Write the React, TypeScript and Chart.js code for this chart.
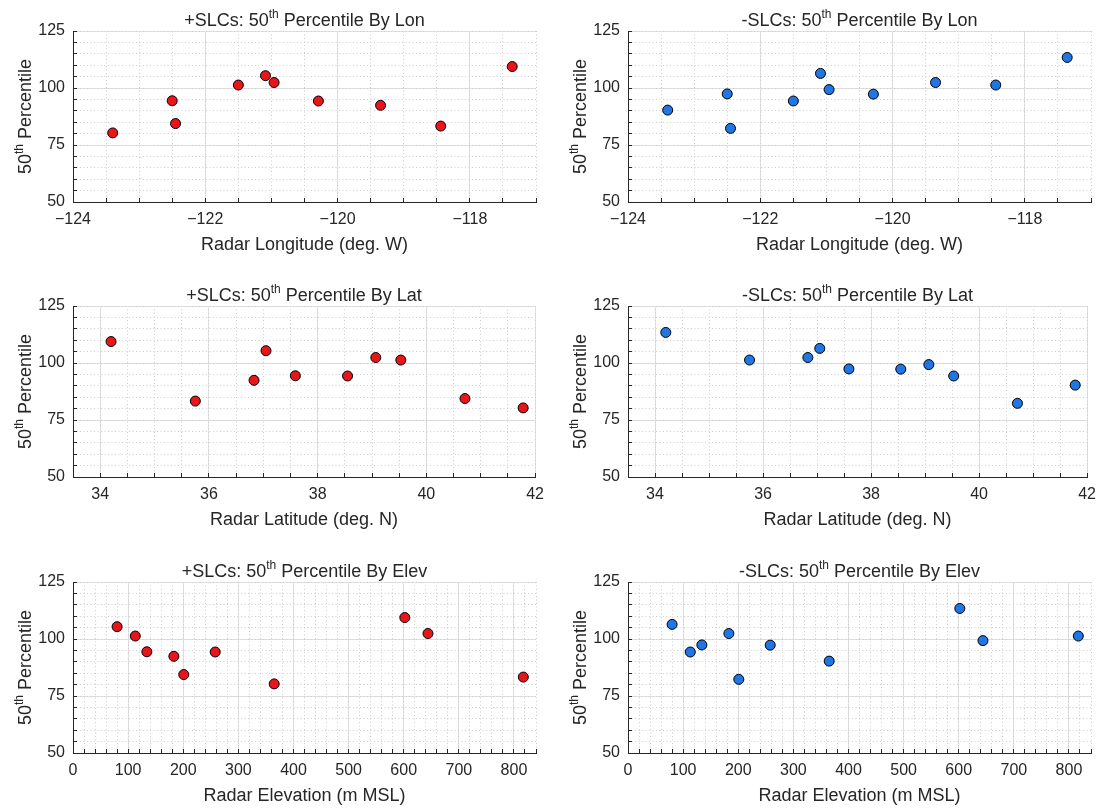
import React, { useEffect, useRef } from 'react';
import { Chart, registerables } from 'chart.js';

Chart.register(...registerables);

// ---- Data ----
const radarLon = [-123.40, -122.50, -122.45, -121.50, -121.09, -120.96, -120.29, -119.35, -118.44, -117.36];
const radarLat = [41.78, 37.59, 40.71, 39.53, 37.05, 39.07, 38.55, 36.83, 35.75, 34.20];
const radarElev = [365, 134, 201, 113, 80, 644, 258, 183, 817, 602];
const p50Plus = [80.3, 94.4, 84.4, 101.3, 105.4, 102.4, 94.3, 92.4, 83.3, 109.4];
const p50Minus = [90.3, 97.4, 82.3, 94.3, 106.4, 99.3, 97.3, 102.4, 101.3, 113.4];

// ---- Axes / tick labels ----
const lonTicks = [-124, -122, -120, -118];
const lonRange = [-124, -117];
const lonMinorStep = 0.5;
const latTicks = [34, 36, 38, 40, 42];
const latRange = [33.5, 42];
const latMinorStep = 0.5;
const elevTicks = [0, 100, 200, 300, 400, 500, 600, 700, 800];
const elevRange = [0, 840];
const elevMinorStep = 20;
const pctTicks = [50, 75, 100, 125];
const pctRange = [50, 125];
const pctMinorStep = 5;

// ---- Text ----
const plusPrefix = '+SLCs: 50';
const minusPrefix = '-SLCs: 50';
const supText = 'th';
const titleSuffixLon = ' Percentile By Lon';
const titleSuffixLat = ' Percentile By Lat';
const titleSuffixElev = ' Percentile By Elev';
const yLabelParts = [{ text: '50' }, { text: 'th', sup: true }, { text: ' Percentile' }];
const xLabelLon = 'Radar Longitude (deg. W)';
const xLabelLat = 'Radar Latitude (deg. N)';
const xLabelElev = 'Radar Elevation (m MSL)';

// ---- Styles ----
const FONT = "'Liberation Sans', Arial, Helvetica, sans-serif";
const TEXT = '#262626';
const AXIS = '#262626';
const MAJOR_GRID = '#e1e1e1';
const MINOR_GRID = '#cdcdcd';
const RED = '#e8151b';
const BLUE = '#1f76e4';
const TITLE_SIZE = 18;
const SUP_SIZE = 12;
const LABEL_SIZE = 18;
const TICK_SIZE = 16;

type Part = { text: string; sup?: boolean };

function drawRich(ctx: CanvasRenderingContext2D, parts: Part[], cx: number, baseline: number, size: number, supSize: number) {
  const mainFont = `${size}px ${FONT}`;
  const supFont = `${supSize}px ${FONT}`;
  let total = 0;
  const widths = parts.map((p) => {
    ctx.font = p.sup ? supFont : mainFont;
    const w = ctx.measureText(p.text).width;
    total += w;
    return w;
  });
  let x = cx - total / 2;
  ctx.fillStyle = TEXT;
  ctx.textAlign = 'left';
  ctx.textBaseline = 'alphabetic';
  parts.forEach((p, i) => {
    ctx.font = p.sup ? supFont : mainFont;
    ctx.fillText(p.text, x, p.sup ? baseline - size * 0.42 : baseline);
    x += widths[i];
  });
}

const richTextPlugin = {
  id: 'richText',
  afterDraw(chart: any, _args: any, opts: any) {
    const { ctx, chartArea } = chart;
    ctx.save();
    drawRich(ctx, opts.title, (chartArea.left + chartArea.right) / 2, chartArea.top - 5, TITLE_SIZE, SUP_SIZE);
    ctx.restore();
    ctx.save();
    ctx.translate(chartArea.left - 42, (chartArea.top + chartArea.bottom) / 2);
    ctx.rotate(-Math.PI / 2);
    drawRich(ctx, opts.ylabel, 0, 0, LABEL_SIZE, SUP_SIZE);
    ctx.restore();
  },
};

function minorTicks(range: number[], step: number) {
  const out: number[] = [];
  const n = Math.round((range[1] - range[0]) / step);
  for (let i = 0; i <= n; i++) out.push(+(range[0] + i * step).toFixed(6));
  return out;
}

function fmt(v: number) {
  return v < 0 ? '\u2212' + Math.abs(v) : String(v);
}

type PanelProps = {
  left: number;
  top: number;
  width: number;
  height: number;
  yAxisWidth: number;
  padRight: number;
  xs: number[];
  ys: number[];
  color: string;
  titleParts: Part[];
  xLabel: string;
  xTicks: number[];
  xRange: number[];
  xMinor: number;
};

function Panel(props: PanelProps) {
  const ref = useRef<HTMLCanvasElement | null>(null);
  useEffect(() => {
    if (!ref.current) return;
    const { xs, ys, color, xTicks, xRange, xMinor, yAxisWidth, padRight, height, titleParts, xLabel } = props;
    const xAxisHeight = 55;
    const chartBottom = 202;
    const data = xs.map((x, i) => ({ x, y: ys[i] }));
    const xMinorTicks = minorTicks(xRange, xMinor);
    const yMinorTicks = minorTicks(pctRange, pctMinorStep);
    const chart = new Chart(ref.current, {
      type: 'scatter',
      data: {
        datasets: [
          {
            data,
            backgroundColor: color,
            borderColor: '#000000',
            borderWidth: 1,
            pointRadius: 5,
            pointHoverRadius: 5,
          },
        ],
      },
      plugins: [richTextPlugin],
      options: {
        animation: false,
        responsive: false,
        devicePixelRatio: 1,
        layout: { padding: { left: 0, top: 31, right: padRight, bottom: height - chartBottom - xAxisHeight } },
        plugins: {
          legend: { display: false },
          tooltip: { enabled: false },
          title: { display: false },
          richText: { title: titleParts, ylabel: yLabelParts },
        } as any,
        scales: {
          x: {
            type: 'linear',
            position: 'bottom',
            min: xRange[0],
            max: xRange[1],
            weight: 0,
            afterBuildTicks: (s: any) => {
              s.ticks = xTicks.map((v) => ({ value: v }));
            },
            afterFit: (s: any) => {
              s.height = xAxisHeight;
            },
            grid: { color: MAJOR_GRID, lineWidth: 1, drawTicks: false },
            border: { display: true, color: AXIS, width: 1 },
            ticks: {
              padding: 8,
              color: TEXT,
              font: { family: FONT, size: TICK_SIZE },
              maxRotation: 0,
              autoSkip: false,
              callback: (v: any) => fmt(Number(v)),
            },
            title: {
              display: true,
              text: xLabel,
              color: TEXT,
              font: { family: FONT, size: LABEL_SIZE },
              padding: { top: 0, bottom: 1 },
            },
          },
          x2: {
            type: 'linear',
            axis: 'x',
            position: 'bottom',
            min: xRange[0],
            max: xRange[1],
            weight: -1,
            afterBuildTicks: (s: any) => {
              s.ticks = xMinorTicks.map((v) => ({ value: v }));
            },
            afterFit: (s: any) => {
              s.height = 0;
            },
            grid: { color: MINOR_GRID, lineWidth: 1, drawTicks: true, tickLength: -4, tickColor: AXIS, tickWidth: 1 },
            border: { display: false, dash: [1, 2.5] },
            ticks: { display: false },
          },
          y: {
            type: 'linear',
            position: 'left',
            min: pctRange[0],
            max: pctRange[1],
            weight: 0,
            afterBuildTicks: (s: any) => {
              s.ticks = pctTicks.map((v) => ({ value: v }));
            },
            afterFit: (s: any) => {
              s.width = yAxisWidth;
            },
            grid: { color: MAJOR_GRID, lineWidth: 1, drawTicks: false },
            border: { display: true, color: AXIS, width: 1 },
            ticks: {
              padding: 8,
              color: TEXT,
              font: { family: FONT, size: TICK_SIZE },
              autoSkip: false,
              callback: (v: any) => fmt(Number(v)),
            },
          },
          y2: {
            type: 'linear',
            axis: 'y',
            position: 'left',
            min: pctRange[0],
            max: pctRange[1],
            weight: -1,
            afterBuildTicks: (s: any) => {
              s.ticks = yMinorTicks.map((v) => ({ value: v }));
            },
            afterFit: (s: any) => {
              s.width = 0;
            },
            grid: { color: MINOR_GRID, lineWidth: 1, drawTicks: true, tickLength: -4, tickColor: AXIS, tickWidth: 1 },
            border: { display: false, dash: [1, 2.5] },
            ticks: { display: false },
          },
        } as any,
      },
    });
    return () => chart.destroy();
  }, []);
  return (
    <canvas
      ref={ref}
      width={props.width}
      height={props.height}
      style={{ position: 'absolute', left: props.left, top: props.top, width: props.width, height: props.height }}
    />
  );
}

export default function App() {
  const rows = [
    { top: 0, height: 276, xs: radarLon, xTicks: lonTicks, xRange: lonRange, xMinor: lonMinorStep, suffix: titleSuffixLon, xLabel: xLabelLon },
    { top: 275, height: 276, xs: radarLat, xTicks: latTicks, xRange: latRange, xMinor: latMinorStep, suffix: titleSuffixLat, xLabel: xLabelLat },
    { top: 551, height: 261, xs: radarElev, xTicks: elevTicks, xRange: elevRange, xMinor: elevMinorStep, suffix: titleSuffixElev, xLabel: xLabelElev },
  ];
  return (
    <div style={{ position: 'absolute', left: 0, top: 0, width: 1104, height: 812, background: '#ffffff', overflow: 'hidden' }}>
      {rows.map((r, i) => (
        <React.Fragment key={i}>
          <Panel
            left={0}
            top={r.top}
            width={552}
            height={r.height}
            yAxisWidth={73}
            padRight={16}
            xs={r.xs}
            ys={p50Plus}
            color={RED}
            titleParts={[{ text: plusPrefix }, { text: supText, sup: true }, { text: r.suffix }]}
            xLabel={r.xLabel}
            xTicks={r.xTicks}
            xRange={r.xRange}
            xMinor={r.xMinor}
          />
          <Panel
            left={552}
            top={r.top}
            width={552}
            height={r.height}
            yAxisWidth={76}
            padRight={13}
            xs={r.xs}
            ys={p50Minus}
            color={BLUE}
            titleParts={[{ text: minusPrefix }, { text: supText, sup: true }, { text: r.suffix }]}
            xLabel={r.xLabel}
            xTicks={r.xTicks}
            xRange={r.xRange}
            xMinor={r.xMinor}
          />
        </React.Fragment>
      ))}
    </div>
  );
}
